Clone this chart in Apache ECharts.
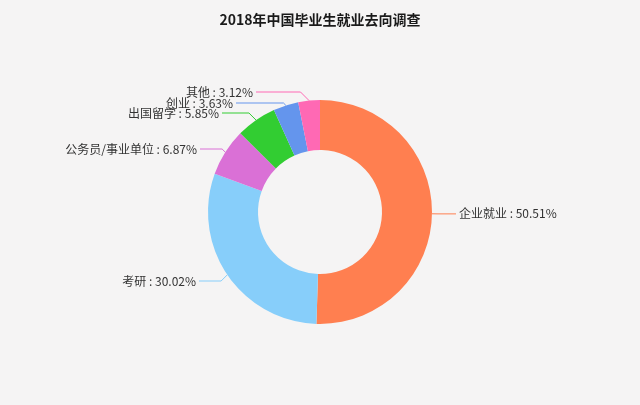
<!DOCTYPE html>
<html>
<head>
<meta charset="utf-8">
<script src="https://cdn.jsdelivr.net/npm/echarts@6/dist/echarts.min.js"></script>
<style>
html,body{margin:0;padding:0;background:#f5f4f4;}
#chart{width:640px;height:405px;}
</style>
</head>
<body>
<div id="chart"></div>
<script>
var titleText = '2018年中国毕业生就业去向调查';
var categories = ['企业就业', '考研', '公务员/事业单位', '出国留学', '创业', '其他'];
var values = [50.51, 30.02, 6.87, 5.85, 3.63, 3.12];
var colors = ['#ff7f50', '#87cefa', '#da70d6', '#32cd32', '#6495ed', '#ff69b4'];

// label text anchor (right end x, middle y) for left-side labels, to mimic reference spacing
var leftLabelAnchors = { 1: [196, 281], 2: [197, 149], 3: [219, 113], 4: [233, 103], 5: [253, 92] };

var chart = echarts.init(document.getElementById('chart'), null, {renderer: 'canvas'});
var data = categories.map(function (c, i) {
  return { name: c, value: values[i], itemStyle: { color: colors[i] } };
});
chart.setOption({
  backgroundColor: '#f5f4f4',
  animation: false,
  title: {
    text: titleText,
    left: 'center',
    top: 8,
    textStyle: {
      fontFamily: 'Noto Sans CJK SC',
      fontSize: 14,
      fontWeight: 'bold',
      color: '#1a1a1a'
    }
  },
  series: [{
    type: 'pie',
    center: [320, 212],
    radius: [62, 112],
    startAngle: 90,
    clockwise: true,
    avoidLabelOverlap: true,
    data: data,
    label: {
      show: true,
      formatter: function (p) { return p.name + ' : ' + p.value.toFixed(2) + '%'; },
      fontFamily: 'Noto Sans CJK SC',
      fontSize: 12,
      color: '#333',
      distanceToLabelLine: 3
    },
    labelLine: {
      show: true,
      length: 6,
      length2: 18,
      lineStyle: { width: 1 }
    },
    labelLayout: function (p) {
      var t = leftLabelAnchors[p.dataIndex];
      if (!t || !p.labelLinePoints) return;
      var p0 = p.labelLinePoints[0];
      var dy = Math.abs(p0[1] - t[1]);
      var bx = p0[0] - Math.min(dy, 10);
      return {
        x: t[0],
        y: t[1],
        align: 'right',
        verticalAlign: 'middle',
        labelLinePoints: [p0, [bx, t[1]], [t[0] + 3, t[1]]]
      };
    }
  }]
});
</script>
</body>
</html>
